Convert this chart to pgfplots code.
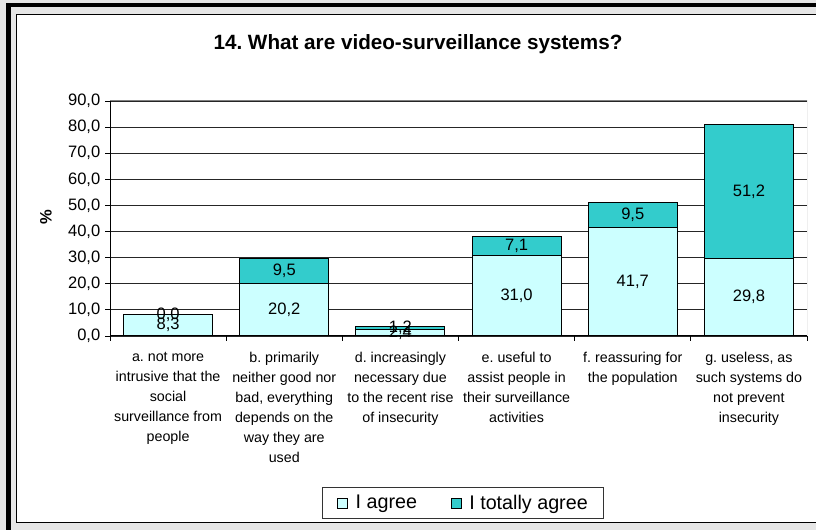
\documentclass[border=0pt]{standalone}
\usepackage{pgfplots}
\pgfplotsset{compat=1.18}
\usepackage{pgfplotstable}
\usepackage{fontspec}
\setmainfont{Liberation Sans}
\frenchspacing
\definecolor{agree}{HTML}{CCFFFF}
\definecolor{tagree}{HTML}{33CCCC}
\definecolor{outerbg}{HTML}{E6E6E6}
\pgfplotstableread{
x agree totally
0 8.3 0.0
1 20.2 9.5
2 2.4 1.2
3 31.0 7.1
4 41.7 9.5
5 29.8 51.2
}\data
\begin{document}
\begin{tikzpicture}[x=0.75pt,y=0.75pt]
\fill[outerbg] (0,0) rectangle (816,530);
\fill[black] (6,523) rectangle (816,527);
\fill[black] (6,0) rectangle (11,527);
\filldraw[fill=white, draw=black, line width=0.75pt] (16.5,7.5) rectangle (830,515.5);
\node[font=\bfseries\fontsize{15.5}{18}\selectfont] at (418,486) {14. What are video-surveillance systems?};
\node[font=\bfseries\fontsize{12.4}{15}\selectfont, rotate=90] at (46,313) {\%};
\begin{axis}[
  at={(82.5pt,145.5pt)}, anchor=south west,
  scale only axis, width=522.75pt, height=176.25pt,
  ybar stacked, bar width=66.75pt,
  xmin=-0.5, xmax=5.5, ymin=0, ymax=90,
  axis x line*=bottom, axis y line*=left,
  axis line style={black, line width=0.75pt},
  ytick={0,10,...,90},
  ymajorgrids, grid style={black!85, line width=0.6pt},
  tick align=outside, major tick length=3.75pt,
  tick style={black, line width=0.6pt},
  /pgf/number format/assume math mode=true,
  yticklabel style={font=\fontsize{12.4}{15}\selectfont,
    /pgf/number format/.cd, fixed, zerofill, precision=1, use comma},
  xtick={-0.5,0.5,...,5.5}, xticklabels={},
  extra x ticks={0,1,2,3,4,5},
  extra x tick style={major tick length=0pt,
    xticklabel style={font=\fontsize{10.7}{15}\selectfont, align=center, anchor=north, yshift=-8.5pt}},
  extra x tick labels={
    {a. not more\\intrusive that the\\social\\surveillance from\\people},
    {b. primarily\\neither good nor\\bad, everything\\depends on the\\way they are\\used},
    {d. increasingly\\necessary due\\to the recent rise\\of insecurity},
    {e. useful to\\assist people in\\their surveillance\\activities},
    {f. reassuring for\\the population},
    {g. useless, as\\such systems do\\not prevent\\insecurity}},
  legend style={at={(0.5065,-0.7106)}, anchor=center, draw=black!80, line width=0.6pt,
    font=\fontsize{14.8}{17}\selectfont, legend columns=2,
    inner xsep=11pt, inner ysep=4.5pt,
    nodes={inner xsep=1pt, inner ysep=1pt},
    /tikz/every odd column/.append style={column sep=5pt},
    /tikz/every even column/.append style={column sep=24pt}},
]
\addplot[fill=agree, draw=black, line width=0.75pt,
  legend image code/.code={\draw[fill=agree, draw=black, line width=0.6pt] (0pt,-3.75pt) rectangle (7.5pt,3.75pt);},
] table[x=x, y=agree] {\data};
\addlegendentry{I agree}
\addplot[fill=tagree, draw=black, line width=0.75pt,
  legend image code/.code={\draw[fill=tagree, draw=black, line width=0.6pt] (0pt,-3.75pt) rectangle (7.5pt,3.75pt);},
] table[x=x, y=totally] {\data};
\addlegendentry{I totally agree}
\draw[black!50, line width=0.75pt] (rel axis cs:0,1) -- (rel axis cs:1,1) -- (rel axis cs:1,0);
\end{axis}
\begin{axis}[
  at={(82.5pt,145.5pt)}, anchor=south west,
  scale only axis, width=522.75pt, height=176.25pt,
  xmin=-0.5, xmax=5.5, ymin=0, ymax=90,
  hide axis, clip=false,
  nodes near coords={\pgfmathprintnumber[fixed,zerofill,precision=1,use comma,assume math mode=true]{\pgfplotspointmeta}},
  every node near coord/.append style={font=\fontsize{12.4}{15}\selectfont, anchor=center, black},
]
\addplot[only marks, mark=none, point meta=explicit]
  table[x=x, y expr=\thisrow{agree}/2, meta=agree] {\data};
\addplot[only marks, mark=none, point meta=explicit]
  table[x=x, y expr=\thisrow{agree}+\thisrow{totally}/2, meta=totally] {\data};
\end{axis}
\pgfresetboundingbox
\useasboundingbox (0,0) rectangle (816,530);
\end{tikzpicture}
\end{document}
